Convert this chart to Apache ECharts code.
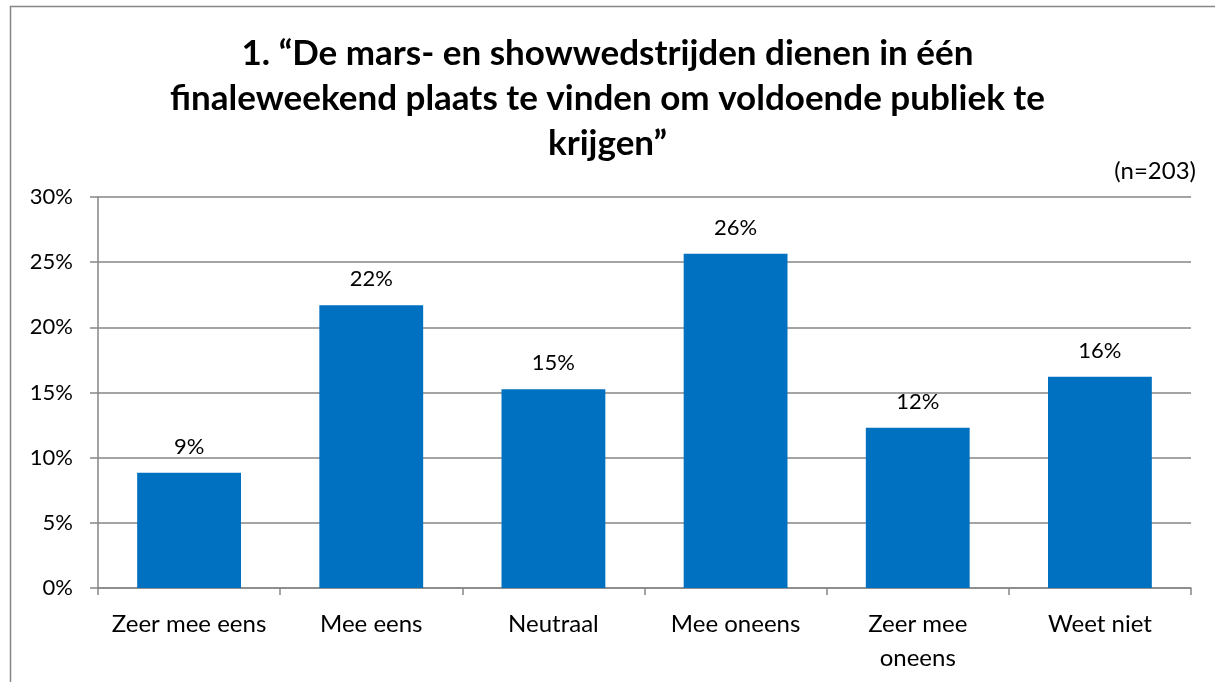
<!DOCTYPE html>
<html>
<head>
<meta charset="utf-8">
<script src="https://cdn.jsdelivr.net/npm/echarts@6/dist/echarts.min.js"></script>
<style>
html,body{margin:0;padding:0;background:#fff;}
#c{width:1215px;height:682px;}
</style>
</head>
<body>
<div id="c"></div>
<script>
var categories = ['Zeer mee eens', 'Mee eens', 'Neutraal', 'Mee oneens', 'Zeer mee\noneens', 'Weet niet'];
var values = [8.84, 21.70, 15.25, 25.64, 12.30, 16.21];
var yTicks = [0, 5, 10, 15, 20, 25, 30];
var titleText = '1. \u201cDe mars- en showwedstrijden dienen in \u00e9\u00e9n\nfinaleweekend plaats te vinden om voldoende publiek te\nkrijgen\u201d';
var noteText = '(n=203)';

var FONT = 'Lato, "Open Sans", "Noto Sans", sans-serif';
var chart = echarts.init(document.getElementById('c'), null, {renderer: 'canvas'});
chart.setOption({
  animation: false,
  backgroundColor: '#ffffff',
  title: [{
    text: titleText,
    left: 'center',
    top: 26,
    textStyle: {fontFamily: FONT, fontWeight: 'bold', fontSize: 35, color: '#000', lineHeight: 45}
  }, {
    text: noteText,
    right: 14,
    top: 154,
    textStyle: {fontFamily: FONT, fontWeight: 'normal', fontSize: 24, color: '#000'}
  }],
  graphic: [{
    type: 'rect',
    shape: {x: 10.5, y: 6.5, width: 1220, height: 690},
    style: {fill: 'none', stroke: '#868686', lineWidth: 1.5},
    silent: true
  }],
  grid: {left: 98, right: 24, top: 197, bottom: 94, containLabel: false},
  xAxis: {
    type: 'category',
    data: categories,
    axisLine: {show: true, lineStyle: {color: '#868686', width: 1.5}},
    axisTick: {show: true, alignWithLabel: false, length: 7, lineStyle: {color: '#868686', width: 1.5}},
    axisLabel: {fontFamily: FONT, fontSize: 24, color: '#000', margin: 19, lineHeight: 34, interval: 0}
  },
  yAxis: {
    type: 'value',
    min: yTicks[0],
    max: yTicks[yTicks.length - 1],
    interval: 5,
    axisLine: {show: true, lineStyle: {color: '#868686', width: 1.5}},
    axisTick: {show: true, length: 8, lineStyle: {color: '#868686', width: 1.5}},
    splitLine: {show: true, lineStyle: {color: '#868686', width: 1.5}},
    axisLabel: {fontFamily: FONT, fontSize: 22, color: '#000', margin: 25, formatter: function (v) { return v + '%'; }}
  },
  series: [{
    type: 'bar',
    data: values,
    barWidth: '57%',
    itemStyle: {color: '#0070C0'},
    label: {
      show: true,
      position: 'top',
      distance: 15,
      fontFamily: FONT,
      fontSize: 22,
      color: '#000',
      formatter: function (p) { return Math.round(p.value) + '%'; }
    }
  }]
});
</script>
</body>
</html>
